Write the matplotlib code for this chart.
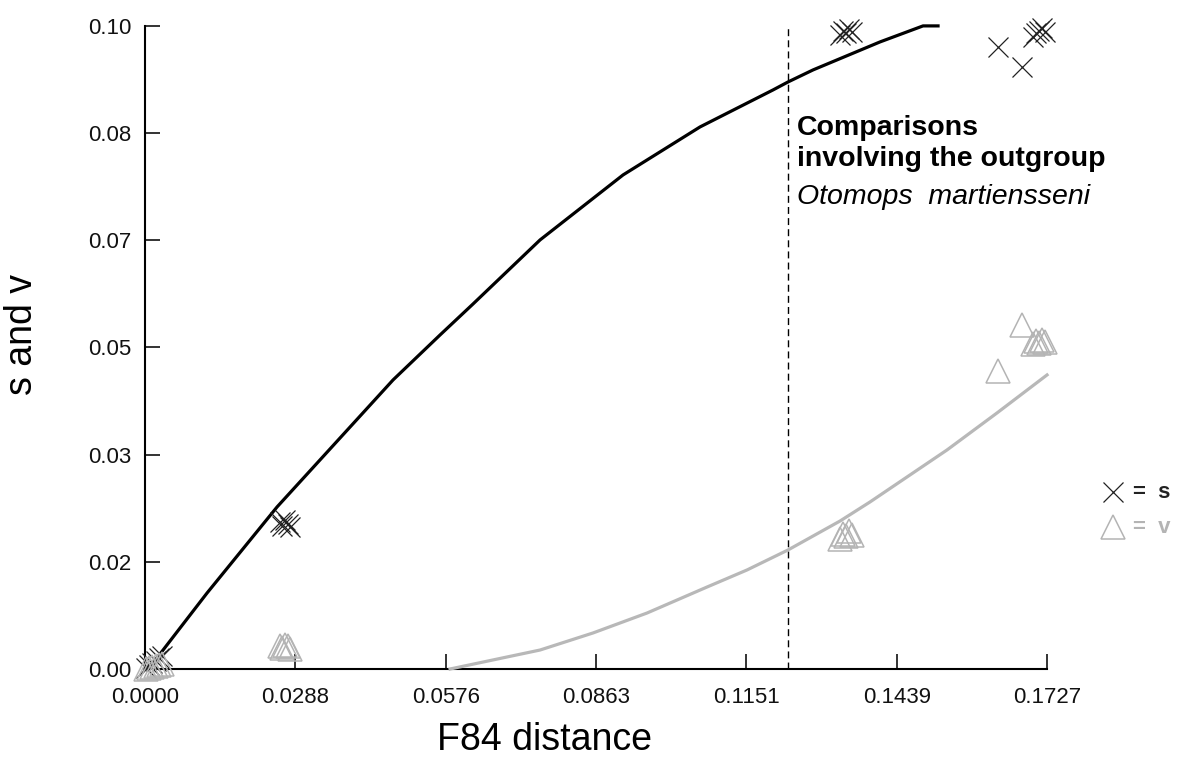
import matplotlib.pyplot as plt
import matplotlib.lines as mlines
import numpy as np

plt.rcParams['font.family'] = ['Liberation Sans', 'DejaVu Sans']

# F84 distance for each pairwise comparison, with s and v values
distance = [0.0002, 0.0008, 0.0014, 0.0020, 0.0026, 0.0032,
            0.0258, 0.0263, 0.0268, 0.0273, 0.0278,
            0.1330, 0.1336, 0.1342, 0.1348, 0.1354,
            0.1633, 0.1679,
            0.1700, 0.1706, 0.1712, 0.1718, 0.1724]
s_values = [0.0002, 0.0006, 0.0010, 0.0013, 0.0017, 0.0020,
            0.0228, 0.0222, 0.0232, 0.0225, 0.0220,
            0.0985, 0.0992, 0.0988, 0.0995, 0.0990,
            0.0967, 0.0936,
            0.0982, 0.0988, 0.0992, 0.0996, 0.0990]
v_values = [0.0000, 0.0002, 0.0003, 0.0004, 0.0006, 0.0008,
            0.0036, 0.0033, 0.0038, 0.0035, 0.0031,
            0.0202, 0.0210, 0.0206, 0.0214, 0.0208,
            0.0463, 0.0535,
            0.0505, 0.0510, 0.0507, 0.0512, 0.0508]

# fitted curves
s_curve_x = [0.0, 0.00153, 0.01187, 0.02527, 0.04748, 0.05648, 0.06280, 0.07563,
             0.09152, 0.10626, 0.12024, 0.12311, 0.12790, 0.14072, 0.14896, 0.15183]
s_curve_y = [0.0, 0.00093, 0.01181, 0.02518, 0.04492, 0.05191, 0.05673, 0.06668,
             0.07678, 0.08424, 0.08999, 0.09123, 0.09310, 0.09745, 0.09994, 0.09994]
v_curve_x = [0.0584, 0.07563, 0.08577, 0.09611, 0.10760, 0.11526, 0.12311,
             0.13307, 0.13881, 0.15355, 0.16312, 0.17270]
v_curve_y = [0.0, 0.00295, 0.00560, 0.00870, 0.01274, 0.01539, 0.01850,
             0.02300, 0.02596, 0.03404, 0.03979, 0.04570]

outgroup_cut = 0.1231

x_ticks = np.linspace(0, 0.1727, 7)
x_tick_labels = ['0.0000', '0.0288', '0.0576', '0.0863', '0.1151', '0.1439', '0.1727']
y_ticks = np.linspace(0, 0.1, 7)
y_tick_labels = ['0.00', '0.02', '0.03', '0.05', '0.07', '0.08', '0.10']

s_color = '#222222'
v_color = '#b4b4b4'

fig = plt.figure(figsize=(11.89, 7.78), dpi=100)
ax = fig.add_axes([0.122, 0.1401, 0.7586, 0.8271])

ax.plot(s_curve_x, s_curve_y, color='black', linewidth=2.3, clip_on=False, zorder=3)
ax.plot(v_curve_x, v_curve_y, color='#b8b8b8', linewidth=2.3, clip_on=False, zorder=3)
ax.plot(distance, s_values, linestyle='none', marker='x', markersize=15,
        markeredgewidth=0.9, color=s_color, clip_on=False, zorder=4)
ax.plot(distance, v_values, linestyle='none', marker='^', markersize=17,
        markerfacecolor='none', markeredgewidth=1.1, markeredgecolor=v_color,
        clip_on=False, zorder=4)
ax.axvline(outgroup_cut, color='black', linewidth=1.0, linestyle=(0, (5, 3)))

ax.text(0.1248, 0.0861, 'Comparisons\ninvolving the outgroup', fontsize=20.5,
        fontweight='bold', va='top', ha='left', linespacing=1.25)
ax.text(0.1248, 0.0734, 'Otomops  martiensseni', fontsize=20.5,
        fontstyle='italic', va='center', ha='left')

ax.set_xlim(0, 0.1727)
ax.set_ylim(0, 0.1)
ax.set_xticks(x_ticks)
ax.set_xticklabels(x_tick_labels)
ax.set_yticks(y_ticks)
ax.set_yticklabels(y_tick_labels)
ax.tick_params(direction='in', length=11, width=1.2, labelsize=16, colors='#111111')
ax.tick_params(axis='x', pad=13)
ax.tick_params(axis='y', pad=10)
for side in ['top', 'right']:
    ax.spines[side].set_visible(False)
for side in ['left', 'bottom']:
    ax.spines[side].set_linewidth(1.5)

ax.set_xlabel('F84 distance', fontsize=27)
ax.xaxis.set_label_coords(0.443, -0.082)
ax.set_ylabel('s and v', fontsize=27)
ax.yaxis.set_label_coords(-0.117, 0.52)

# key at the right
fig.add_artist(mlines.Line2D([0.936], [0.3676], marker='x', markersize=15,
                             markeredgewidth=0.9, color=s_color, transform=fig.transFigure))
fig.text(0.953, 0.3676, '=  s', fontsize=16, fontweight='bold', color=s_color, va='center')
fig.add_artist(mlines.Line2D([0.936], [0.3226], marker='^', markersize=17,
                             markerfacecolor='none', markeredgewidth=1.1,
                             markeredgecolor=v_color, transform=fig.transFigure))
fig.text(0.953, 0.3226, '=  v', fontsize=16, fontweight='bold', color=v_color, va='center')

plt.savefig('out.png', dpi=100)
